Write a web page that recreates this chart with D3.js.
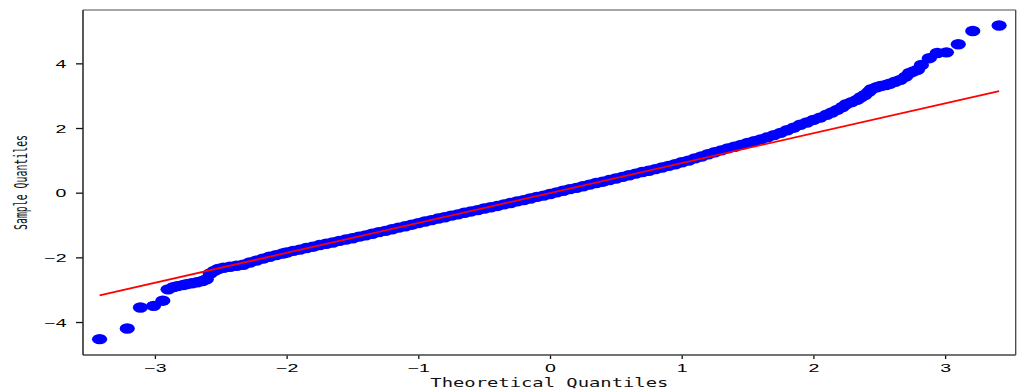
<!DOCTYPE html>
<html>
<head>
<meta charset="utf-8">
<script src="https://cdn.jsdelivr.net/npm/d3@7"></script>
<style>
  html, body { margin: 0; padding: 0; background: #fff; }
  svg { display: block; }
</style>
</head>
<body>
<div id="qqplot"></div>
<script>
// Theoretical quantiles (x) and ordered sample quantiles (y)
const theoretical = [
  -3.42, -3.21, -3.11, -3.01, -2.94, -2.90, -2.86, -2.83, -2.79, -2.76, -2.72, -2.68, -2.64, -2.61,
  -2.58, -2.55, -2.52, -2.48, -2.43, -2.38, -2.33, -2.28, -2.23, -2.18, -2.13, -2.08, -2.03,
  -2.00, -1.95, -1.90, -1.85, -1.80, -1.75, -1.70, -1.65, -1.60, -1.55, -1.50, -1.45, -1.40, -1.35,
  -1.30, -1.25, -1.20, -1.15, -1.10, -1.05, -1.00, -0.95, -0.90, -0.85, -0.80, -0.75, -0.70, -0.65,
  -0.60, -0.55, -0.50, -0.45, -0.40, -0.35, -0.30, -0.25, -0.20, -0.15, -0.10, -0.05, 0.00, 0.05,
  0.10, 0.15, 0.20, 0.25, 0.30, 0.35, 0.40, 0.45, 0.50, 0.55, 0.60, 0.65, 0.70, 0.75, 0.80, 0.85,
  0.90, 0.95, 1.00, 1.05, 1.10, 1.15, 1.20, 1.25, 1.30, 1.35, 1.40, 1.45, 1.50, 1.55, 1.60, 1.65,
  1.70, 1.75, 1.80, 1.85, 1.90, 1.95, 2.00, 2.05, 2.10, 2.14, 2.18, 2.22, 2.25, 2.29, 2.33, 2.36,
  2.39, 2.42, 2.44, 2.48, 2.51, 2.55, 2.58, 2.62, 2.66, 2.70, 2.73, 2.76, 2.79, 2.82, 2.88, 2.94,
  3.01, 3.10, 3.21, 3.41
];
const sample = [
  -4.53, -4.20, -3.55, -3.50, -3.34, -2.99, -2.92, -2.89, -2.86, -2.83, -2.80, -2.77, -2.73, -2.68,
  -2.50, -2.42, -2.36, -2.32, -2.29, -2.26, -2.23, -2.16, -2.10, -2.04, -1.98, -1.93, -1.88,
  -1.85, -1.80, -1.76, -1.71, -1.67, -1.62, -1.58, -1.54, -1.49, -1.45, -1.41, -1.36, -1.32, -1.27,
  -1.22, -1.18, -1.13, -1.08, -1.04, -0.99, -0.94, -0.89, -0.85, -0.80, -0.76, -0.71, -0.67, -0.62,
  -0.58, -0.54, -0.49, -0.45, -0.41, -0.36, -0.32, -0.27, -0.23, -0.18, -0.13, -0.09, -0.04, 0.01,
  0.06, 0.11, 0.15, 0.20, 0.25, 0.30, 0.34, 0.39, 0.44, 0.49, 0.54, 0.59, 0.64, 0.68, 0.73, 0.78,
  0.83, 0.88, 0.94, 0.99, 1.06, 1.12, 1.19, 1.25, 1.31, 1.37, 1.42, 1.48, 1.54, 1.59, 1.65, 1.71,
  1.78, 1.85, 1.93, 2.01, 2.10, 2.17, 2.25, 2.32, 2.41, 2.48, 2.56, 2.65, 2.74, 2.80, 2.87, 2.95,
  3.02, 3.12, 3.20, 3.26, 3.30, 3.33, 3.37, 3.43, 3.49, 3.59, 3.70, 3.75, 3.80, 3.95, 4.16, 4.32,
  4.34, 4.59, 5.00, 5.17
];
const xTicks = [-3, -2, -1, 0, 1, 2, 3];
const yTicks = [-4, -2, 0, 2, 4];
// standardized reference line: y = intercept + slope * x
const lineSlope = 0.925;
const lineIntercept = -0.01;

const width = 1019;
const height = 392;
const margin = { top: 10, right: 3.3, bottom: 37, left: 83 };
const stretch = 1.7; // the picture is stretched sideways, text and markers too

const svg = d3.select("#qqplot")
  .append("svg")
  .attr("width", width)
  .attr("height", height);

const x = d3.scaleLinear()
  .domain([-3.546, 3.536])
  .range([margin.left, width - margin.right]);

const y = d3.scaleLinear()
  .domain([-5.02, 5.65])
  .range([height - margin.bottom, margin.top]);

const fmt = d3.format("");

// X-axis
const xAxis = svg.append("g")
  .attr("transform", "translate(0," + (height - margin.bottom) + ")")
  .call(d3.axisBottom(x).tickValues(xTicks).tickSize(4).tickSizeOuter(0).tickFormat(fmt));
xAxis.select(".domain").remove();
xAxis.selectAll(".tick line").attr("stroke", "#111").attr("stroke-width", 1.3);
xAxis.selectAll(".tick text")
  .attr("y", 0)
  .attr("dy", 0)
  .attr("transform", "translate(0,17) scale(" + stretch + ",1)")
  .style("font-family", "'Liberation Sans', Arial, sans-serif")
  .style("font-size", "11.5px")
  .attr("fill", "#000");

// Y-axis
const yAxis = svg.append("g")
  .attr("transform", "translate(" + margin.left + ",0)")
  .call(d3.axisLeft(y).tickValues(yTicks).tickSize(7).tickSizeOuter(0).tickFormat(fmt));
yAxis.select(".domain").remove();
yAxis.selectAll(".tick line").attr("stroke", "#111").attr("stroke-width", 1.3);
yAxis.selectAll(".tick text")
  .attr("x", 0)
  .attr("dy", "0.36em")
  .attr("transform", "translate(-16.5,0) scale(" + stretch + ",1)")
  .style("font-family", "'Liberation Sans', Arial, sans-serif")
  .style("font-size", "11.5px")
  .attr("fill", "#000");

// sample points
const pts = theoretical.map((t, i) => ({ t: t, s: sample[i] }));
svg.append("g")
  .selectAll("ellipse")
  .data(pts)
  .enter()
  .append("ellipse")
  .attr("cx", d => x(d.t))
  .attr("cy", d => y(d.s))
  .attr("rx", 7.6)
  .attr("ry", 5.2)
  .attr("fill", "#0000ff");

// reference line, drawn over the points
const tExt = d3.extent(theoretical);
svg.append("line")
  .attr("x1", x(tExt[0]))
  .attr("y1", y(lineIntercept + lineSlope * tExt[0]))
  .attr("x2", x(tExt[1]))
  .attr("y2", y(lineIntercept + lineSlope * tExt[1]))
  .attr("stroke", "#ff0000")
  .attr("stroke-width", 1.8);

// frame
const x0 = x.range()[0], x1 = x.range()[1], y0 = y.range()[1], y1 = y.range()[0];
svg.append("line").attr("x1", x0).attr("x2", x1).attr("y1", y0).attr("y2", y0)
  .attr("stroke", "#888").attr("stroke-width", 1.3);
svg.append("line").attr("x1", x1).attr("x2", x1).attr("y1", y0).attr("y2", y1)
  .attr("stroke", "#444").attr("stroke-width", 1.3);
svg.append("line").attr("x1", x0).attr("x2", x1).attr("y1", y1).attr("y2", y1)
  .attr("stroke", "#444").attr("stroke-width", 1.3);
svg.append("line").attr("x1", x0).attr("x2", x0).attr("y1", y0).attr("y2", y1)
  .attr("stroke", "#222").attr("stroke-width", 1.5);

// axis labels
svg.append("text")
  .attr("x", (x0 + x1) / 2)
  .attr("y", 386.5)
  .attr("text-anchor", "middle")
  .attr("textLength", 238)
  .attr("lengthAdjust", "spacingAndGlyphs")
  .style("font-family", "'DejaVu Sans Mono', monospace")
  .style("font-size", "13px")
  .attr("fill", "#111")
  .text("Theoretical Quantiles");

svg.append("text")
  .attr("transform", "translate(21.5," + ((y0 + y1) / 2) + ") rotate(-90) scale(1,1.7)")
  .attr("text-anchor", "middle")
  .attr("dy", "0.35em")
  .attr("textLength", 95)
  .attr("lengthAdjust", "spacingAndGlyphs")
  .style("font-family", "'DejaVu Sans Mono', monospace")
  .style("font-size", "10px")
  .attr("fill", "#111")
  .text("Sample Quantiles");
</script>
</body>
</html>
